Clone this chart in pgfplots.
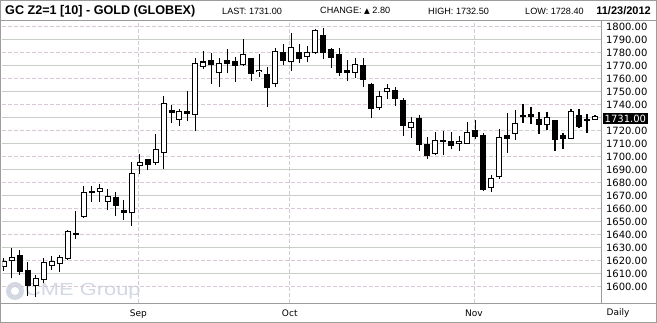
\documentclass[border=0pt]{standalone}
\usepackage{fontspec}
\setmainfont{Liberation Sans}
\newfontfamily\dejavu{DejaVu Sans}
\usepackage{graphicx}
\usepackage{pgfplots}
\usepackage{pgfplotstable}
\pgfplotsset{compat=1.18}

\pgfplotstableread{
i o h l c
0 1615.0 1622.0 1612.0 1620.0
1 1619.6 1629.7 1606.5 1622.7
2 1624.5 1628.4 1609.1 1611.7
3 1613.0 1618.9 1593.1 1600.9
4 1600.6 1609.1 1591.9 1607.0
5 1605.2 1622.0 1602.7 1618.9
6 1615.8 1623.3 1613.0 1619.9
7 1617.3 1624.5 1611.7 1622.7
8 1621.5 1643.8 1620.2 1643.1
9 1641.2 1658.5 1636.6 1639.6
10 1653.6 1677.8 1653.0 1672.9
11 1673.7 1677.3 1665.0 1672.2
12 1672.9 1679.4 1665.0 1676.0
13 1665.2 1675.2 1658.8 1669.8
14 1669.1 1672.9 1654.1 1661.9
15 1659.3 1667.0 1651.6 1656.7
16 1656.7 1695.8 1646.9 1687.6
17 1693.0 1701.8 1687.1 1696.1
18 1697.9 1698.5 1689.7 1694.0
19 1695.3 1717.2 1693.5 1706.1
20 1703.0 1747.0 1690.9 1741.0
21 1736.0 1740.0 1726.0 1733.5
22 1728.2 1737.0 1724.0 1735.5
23 1734.9 1750.4 1727.2 1732.9
24 1732.4 1775.6 1719.5 1772.5
25 1769.2 1781.3 1767.6 1773.3
26 1774.1 1779.5 1756.0 1770.2
27 1764.1 1776.1 1753.7 1771.8
28 1774.1 1782.6 1764.5 1771.5
29 1773.6 1776.6 1757.3 1769.9
30 1770.2 1790.3 1769.7 1778.7
31 1775.9 1776.3 1758.1 1763.7
32 1765.3 1778.7 1761.2 1767.1
33 1763.3 1768.9 1738.3 1752.9
34 1756.0 1783.8 1753.7 1781.3
35 1780.3 1786.4 1770.2 1773.6
36 1773.0 1794.9 1765.8 1784.4
37 1780.3 1786.4 1772.2 1775.3
38 1776.6 1785.1 1773.0 1780.3
39 1779.5 1798.0 1779.0 1797.3
40 1793.4 1799.3 1774.9 1780.0
41 1782.6 1783.4 1768.4 1775.6
42 1778.7 1783.8 1762.5 1764.5
43 1766.4 1774.1 1758.1 1764.5
44 1764.5 1775.6 1760.7 1771.0
45 1770.5 1775.6 1754.0 1758.9
46 1756.0 1756.8 1729.8 1736.7
47 1737.5 1750.4 1736.3 1747.1
48 1749.6 1755.6 1744.7 1752.9
49 1751.7 1753.5 1738.8 1744.7
50 1743.4 1745.5 1715.9 1723.6
51 1722.4 1730.8 1714.6 1727.0
52 1730.1 1731.9 1704.3 1708.9
53 1709.5 1715.4 1698.6 1700.4
54 1702.3 1719.0 1701.0 1712.8
55 1712.5 1719.7 1701.0 1711.1
56 1712.3 1719.0 1705.6 1708.5
57 1710.0 1715.9 1704.8 1712.3
58 1710.0 1727.0 1709.6 1719.3
59 1720.8 1728.0 1713.9 1715.4
60 1716.4 1718.0 1674.0 1674.2
61 1676.0 1686.3 1672.6 1683.7
62 1684.2 1721.6 1683.2 1715.4
63 1716.4 1733.4 1703.1 1713.3
64 1717.7 1735.7 1712.5 1726.2
65 1732.1 1740.3 1726.2 1730.5
66 1732.6 1738.6 1725.4 1730.5
67 1729.3 1734.4 1717.7 1724.4
68 1724.4 1734.7 1720.3 1730.8
69 1728.0 1728.5 1704.3 1712.8
70 1716.4 1718.0 1705.6 1713.3
71 1713.9 1736.5 1713.5 1735.2
72 1731.9 1736.5 1722.4 1722.8
73 1728.8 1732.6 1718.6 1727.5
74 1728.4 1732.5 1728.4 1731.0
}\candles

\definecolor{gridsolid}{HTML}{C6CEC6}
\definecolor{griddash}{HTML}{D6C8D6}
\definecolor{framegray}{HTML}{9C9C9C}
\definecolor{wmark}{HTML}{D3D8E3}

\begin{document}
\begin{tikzpicture}[x=1pt,y=1pt]
\path[use as bounding box] (0,0) rectangle (657,323);
\fill[white] (0,0) rectangle (657,323);
% watermark
\fill[wmark] (15,32) circle (9);
\fill[white] (15,32) circle (4);
\node[anchor=west, text=wmark, inner sep=0pt] at (25,32) {\scalebox{1.25}[1]{\fontsize{17.5}{17.5}\selectfont CME Group}};
\begin{axis}[
  at={(2.5pt,20pt)}, anchor=south west,
  scale only axis, width=598.5pt, height=283pt,
  xmin=-0.15, xmax=74.75, ymin=1587.5, ymax=1805.2,
  axis line style={draw=none},
  clip=true,
  major tick length=0pt, minor tick length=0pt,
  tick style={draw=none},
  xtick={16.85,35.8,58.85},
  xticklabels={Sep,Oct,Nov},
  xticklabel style={font=\dejavu\fontsize{9}{11}\selectfont, yshift=-3pt},
  xmajorgrids,
  x grid style={griddash, line width=0.8pt, dash pattern=on 4pt off 2pt},
  ytick={1600,1610,...,1800},
  yticklabels={1600.00,1610.00,1620.00,1630.00,1640.00,1650.00,1660.00,1670.00,1680.00,1690.00,1700.00,1710.00,1720.00,{},1740.00,1750.00,1760.00,1770.00,1780.00,1790.00,1800.00},
  yticklabel pos=right,
  yticklabel style={font=\dejavu\fontsize{10}{12}\selectfont, anchor=west, xshift=1.5pt},
  minor ytick={1610,1630,...,1790},
  yminorgrids,
  minor grid style={gridsolid, line width=0.8pt},
  extra y ticks={1600,1620,...,1800},
  extra y tick labels={},
  extra y tick style={ymajorgrids=true, major grid style={griddash, line width=0.8pt, dash pattern=on 4pt off 2pt}},
]
% wicks
\addplot[black, line width=1.2pt, quiver={u=0, v=\thisrow{h}-\thisrow{l}}] table[x=i, y=l] {\candles};
% bodies (black)
\addplot[black, line width=6pt, quiver={u=0, v=\thisrow{c}-\thisrow{o}}] table[x=i, y=o] {\candles};
% hollow interior for rising candles
\addplot[white, line width=4pt, quiver={u=0, v=\thisrow{c}-\thisrow{o}-1.6},
  restrict expr to domain={\thisrow{c}-\thisrow{o}}{1.7:1000}] table[x=i, y expr=\thisrow{o}+0.8] {\candles};
\end{axis}
% frame lines
\draw[framegray, line width=0.8pt] (0,303) -- (657,303);
\draw[framegray, line width=0.8pt] (0,20) -- (657,20);
\draw[framegray, line width=0.8pt] (601,20) -- (601,303);
\draw[framegray, line width=0.8pt] (0.4,0.4) rectangle (656.6,322.6);
% last price box
\node[fill=black, text=white, font=\dejavu\fontsize{10}{12}\selectfont, inner xsep=2pt, inner ysep=1.5pt, anchor=west] at (602.5,204.5) {1731.00};
% header
\node[anchor=west, inner sep=0pt, font=\bfseries\fontsize{12.6}{14}\selectfont] at (5,312) {GC Z2=1 [10] - GOLD (GLOBEX)};
\node[anchor=west, inner sep=0pt, font=\fontsize{9.1}{11}\selectfont] at (222,312) {LAST: 1731.00};
\node[anchor=west, inner sep=0pt, font=\fontsize{9.1}{11}\selectfont] at (320,312) {CHANGE: {\dejavu\fontsize{7.5}{9}\selectfont ▲} 2.80};
\node[anchor=west, inner sep=0pt, font=\fontsize{9.1}{11}\selectfont] at (428,312) {HIGH: 1732.50};
\node[anchor=west, inner sep=0pt, font=\fontsize{9.1}{11}\selectfont] at (525,312) {LOW: 1728.40};
\node[anchor=east, inner sep=0pt, font=\bfseries\fontsize{11}{13}\selectfont] at (651,312) {11/23/2012};
% Daily
\node[font=\dejavu\fontsize{9}{11}\selectfont] at (618,10) {Daily};
\end{tikzpicture}
\end{document}
